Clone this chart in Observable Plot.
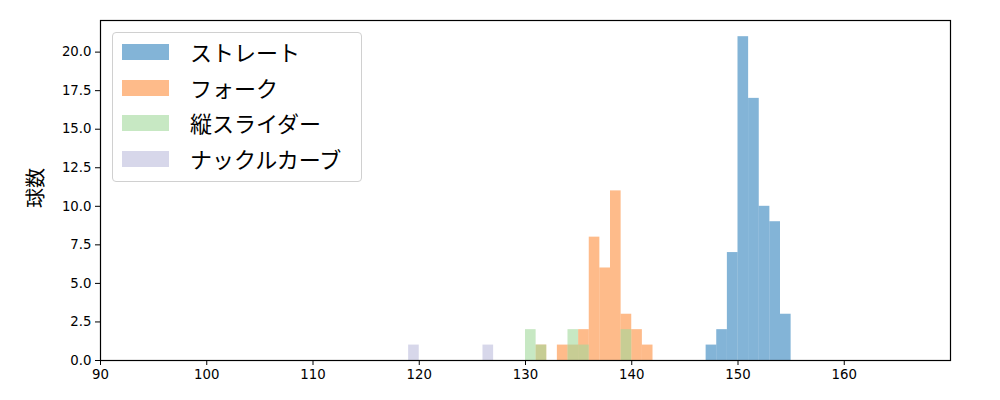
<!DOCTYPE html>
<html>
<head>
<meta charset="utf-8">
<script src="https://cdn.jsdelivr.net/npm/d3@7"></script>
<script src="https://cdn.jsdelivr.net/npm/@observablehq/plot@0.6"></script>
<style>
  html, body { margin: 0; padding: 0; background: #fff; }
  #wrap { position: relative; width: 1000px; height: 400px; }
  #legend {
    position: absolute; left: 112px; top: 32px; width: 248px; height: 148px;
    border: 1px solid #d0d0d0; border-radius: 4px; background: rgba(255,255,255,0.8);
    font-family: "Noto Sans CJK JP", sans-serif; font-size: 22px; color: #000;
  }
  .item { position: absolute; left: 9px; height: 16px; }
  .sw { position: absolute; left: 0; top: 0; width: 47px; height: 16px; }
  .lab { position: absolute; left: 68px; top: -8px; white-space: nowrap; line-height: 30px; }
  #ylabel {
    position: absolute; left: 34px; top: 188px; transform: translate(-50%, -50%) rotate(-90deg);
    font-family: "Noto Sans CJK JP", sans-serif; font-size: 20px; white-space: nowrap;
  }
</style>
</head>
<body>
<div id="wrap"></div>
<script>
const pitchTypes = ["ストレート", "フォーク", "縦スライダー", "ナックルカーブ"];
const baseColors = ["#3182bd", "#fd8d3c", "#a1d99b", "#bcbddc"];

// bins of width 1 (km/h): left edge and count
const straightBins = [147, 148, 149, 150, 151, 152, 153, 154];
const straightCounts = [1, 2, 7, 21, 17, 10, 9, 3];
const forkBins = [131, 133, 134, 135, 136, 137, 138, 139, 140, 141];
const forkCounts = [1, 1, 1, 2, 8, 6, 11, 3, 2, 1];
const sliderBins = [130, 131, 134, 135, 139];
const sliderCounts = [2, 1, 2, 1, 2];
const knuckleBins = [119, 126];
const knuckleCounts = [1, 1];

const xTicks = [90, 100, 110, 120, 130, 140, 150, 160];
const yTicks = [0, 2.5, 5, 7.5, 10, 12.5, 15, 17.5, 20];

const series = [
  [pitchTypes[0], straightBins, straightCounts],
  [pitchTypes[1], forkBins, forkCounts],
  [pitchTypes[2], sliderBins, sliderCounts],
  [pitchTypes[3], knuckleBins, knuckleCounts]
];
const rows = [];
for (const [name, bins, counts] of series) {
  bins.forEach((b, i) => rows.push({type: name, x1: b, x2: b + 1, y: counts[i]}));
}

const chart = Plot.plot({
  width: 1000,
  height: 400,
  marginLeft: 100,
  marginRight: 50,
  marginTop: 20,
  marginBottom: 40,
  style: {fontFamily: "DejaVu Sans", fontSize: "13.3px", color: "#000", background: "#fff"},
  x: {domain: [90, 170], ticks: xTicks, tickSize: 5, label: null, tickFormat: d => String(d)},
  y: {domain: [0, 22.05], ticks: yTicks, tickSize: 5, label: null, tickFormat: d => d.toFixed(1)},
  color: {domain: pitchTypes, range: baseColors},
  marks: [
    Plot.rect(rows, {x1: "x1", x2: "x2", y1: 0, y2: "y", fill: "type", fillOpacity: 0.6}),
    Plot.frame({stroke: "#000", strokeWidth: 1.2})
  ]
});

const wrap = document.getElementById("wrap");
wrap.appendChild(chart);

const legend = document.createElement("div");
legend.id = "legend";
pitchTypes.forEach((name, i) => {
  const item = document.createElement("div");
  item.className = "item";
  item.style.top = (11 + i * 35.7) + "px";
  const sw = document.createElement("div");
  sw.className = "sw";
  sw.style.background = baseColors[i];
  sw.style.opacity = 0.6;
  const lab = document.createElement("div");
  lab.className = "lab";
  lab.textContent = name;
  item.appendChild(sw);
  item.appendChild(lab);
  legend.appendChild(item);
});
wrap.appendChild(legend);

const yl = document.createElement("div");
yl.id = "ylabel";
yl.textContent = "球数";
wrap.appendChild(yl);
</script>
</body>
</html>
